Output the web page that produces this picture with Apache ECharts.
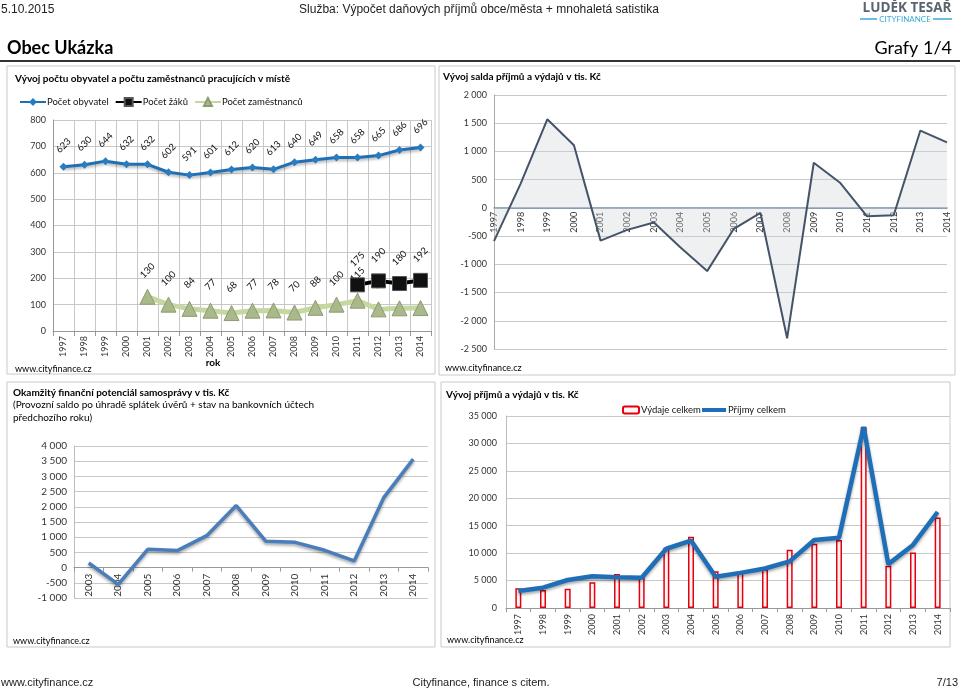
<!DOCTYPE html>
<html><head><meta charset="utf-8">
<script src="https://cdn.jsdelivr.net/npm/echarts@6/dist/echarts.min.js"></script>
<style>html,body{margin:0;padding:0;background:#fff}#c{width:960px;height:690px}</style>
</head><body><div id="c"></div>
<script>
// ---- data ----
const years = ['1997','1998','1999','2000','2001','2002','2003','2004','2005','2006','2007','2008','2009','2010','2011','2012','2013','2014'];
const popValues = [623,630,644,632,632,602,591,601,612,620,613,640,649,658,658,665,686,696];
const pupilValues = [null,null,null,null,null,null,null,null,null,null,null,null,null,null,175,190,180,192];
const employeeValues = [null,null,null,null,130,100,84,77,68,77,78,70,88,100,115,82,86,87];
const saldoValues = [-590,430,1570,1110,-580,-390,-260,-700,-1120,-370,-90,-2310,800,440,-150,-130,1370,1160];
const potYears = ['2003','2004','2005','2006','2007','2008','2009','2010','2011','2012','2013','2014'];
const potValues = [150,-550,600,560,1050,2040,870,830,570,220,2300,3570];
const expenseValues = [3600,3300,3500,4700,6200,5700,11000,13000,6700,6600,7000,10600,11700,12400,33000,7700,10100,16500];
const incomeValues = [3100,3700,5100,5800,5600,5500,10800,12300,5700,6400,7200,8500,12400,12800,33000,8000,11500,17500];

const FONT = 'Lato, "Open Sans", sans-serif';
const HFONT = '"Liberation Sans Narrow", "Liberation Sans", Arial, sans-serif';
const fmt = v => String(v).replace(/\B(?=(\d{3})+(?!\d))/g, ' ');
const axisTxt = {color:'#333', fontSize:9, fontFamily:FONT};
const gridLine = {lineStyle:{color:'#c8c8c8', width:1}};

function txt(text, x, y, opt) {
  return {type:'text', style:Object.assign({text, x, y, fill:'#000', fontSize:10, fontFamily:FONT, verticalAlign:'middle', align:'left'}, opt || {})};
}
function box(x, y, w, h) {
  return {type:'rect', shape:{x, y, width:w, height:h}, style:{fill:'none', stroke:'#c9c9c9', lineWidth:1}, z:-1};
}

// grid geometry
const G = [
  {left:53, top:120, width:378, height:211},
  {left:494, top:95, width:453, height:254},
  {left:74, top:446, width:354, height:152},
  {left:506, top:416, width:444, height:192}
];
// distance of the zero line above the grid bottom (value axis ranges below)
const zeroOff = (g, min, max) => -(g.height * (0 - min) / (max - min));

const chart = echarts.init(document.getElementById('c'), null, {renderer:'canvas'});
const rotLabel = (extra) => Object.assign({show:true, position:'top', rotate:45, distance:10, offset:[5,0], fontSize:9.5, fontFamily:FONT, color:'#111'}, extra || {});

chart.setOption({
  animation:false,
  textStyle:{fontFamily:FONT},
  graphic:[
    box(7,66,428,308), box(439,66,516,309), box(7,382,428,265), box(441,382,509,265),
    txt('5.10.2015', 1, 10, {fontSize:12, fontFamily:HFONT, fill:'#222'}),
    txt('Služba: Výpočet daňových příjmů obce/města + mnohaletá satistika', 479, 10, {fontSize:12, fontFamily:HFONT, fill:'#222', align:'center'}),
    txt('LUDĚK TESAŘ', 907, 8, {fontSize:13.5, fontWeight:'bold', fill:'#5a6470', align:'center', fontFamily:'"Open Sans", Lato, sans-serif'}),
    txt('CITYFINANCE', 905, 19, {fontSize:8, fill:'#3aa8d8', align:'center'}),
    {type:'line', shape:{x1:860,y1:19,x2:877,y2:19}, style:{stroke:'#3aa8d8', lineWidth:1.5}},
    {type:'line', shape:{x1:933,y1:19,x2:952,y2:19}, style:{stroke:'#3aa8d8', lineWidth:1.5}},
    txt('Obec Ukázka', 7, 48, {fontSize:18, fontWeight:'bold'}),
    txt('Grafy 1/4', 952, 48, {fontSize:18, align:'right'}),
    {type:'line', shape:{x1:0,y1:61,x2:960,y2:61}, style:{stroke:'#333', lineWidth:2}},
    txt('Vývoj počtu obyvatel a počtu zaměstnanců pracujících v místě', 15, 79, {fontWeight:'bold'}),
    txt('rok', 213, 363, {fontWeight:'bold', align:'center'}),
    txt('www.cityfinance.cz', 15, 369, {fontSize:9}),
    txt('Vývoj salda příjmů a výdajů v tis. Kč', 443, 77, {fontWeight:'bold'}),
    txt('www.cityfinance.cz', 445, 368, {fontSize:9}),
    txt('Okamžitý finanční potenciál samosprávy v tis. Kč', 13, 393, {fontWeight:'bold'}),
    txt('(Provozní saldo po úhradě splátek úvěrů + stav na bankovních účtech', 13, 405),
    txt('předchozího roku)', 13, 418),
    txt('www.cityfinance.cz', 13, 641, {fontSize:9}),
    txt('Vývoj příjmů a výdajů v tis. Kč', 446, 395, {fontWeight:'bold'}),
    txt('www.cityfinance.cz', 447, 640, {fontSize:9}),
    txt('www.cityfinance.cz', 1, 683, {fontSize:11, fontFamily:HFONT, fill:'#222'}),
    txt('Cityfinance, finance s citem.', 481, 683, {fontSize:11, fontFamily:HFONT, fill:'#222', align:'center'}),
    txt('7/13', 958, 683, {fontSize:11, fontFamily:HFONT, fill:'#222', align:'right'})
  ],
  legend:[
    {data:['Počet obyvatel','Počet žáků','Počet zaměstnanců'], left:14, top:92, itemWidth:26, itemHeight:10, itemGap:6,
     textStyle:{fontSize:9.5, fontFamily:FONT, color:'#111', padding:[0,0,0,-4]}},
    {data:['Výdaje celkem'], left:617, top:400, itemWidth:16, itemHeight:7,
     textStyle:{fontSize:9.5, fontFamily:FONT, color:'#111', padding:[0,0,0,-3]}},
    {data:[{name:'Příjmy celkem', icon:'rect'}], left:697, top:400, itemWidth:24, itemHeight:4,
     textStyle:{fontSize:9.5, fontFamily:FONT, color:'#111', padding:[0,0,0,-3]}}
  ],
  grid:G,
  xAxis:[
    {type:'category', gridIndex:0, data:years, boundaryGap:true,
     axisLine:{lineStyle:{color:'#999'}}, axisTick:{show:true, interval:0, lineStyle:{color:'#999'}},
     axisLabel:Object.assign({rotate:90, interval:0, margin:5}, axisTxt),
     splitLine:{show:true, interval:0, lineStyle:{color:'#c8c8c8'}}},
    {type:'category', gridIndex:1, data:years, boundaryGap:false, offset:zeroOff(G[1], -2500, 2000),
     axisLine:{onZero:false, lineStyle:{color:'#7a8ea8', width:1.5}}, axisTick:{show:false},
     axisLabel:Object.assign({rotate:90, interval:0, margin:4}, axisTxt), splitLine:{show:false}},
    {type:'category', gridIndex:2, data:potYears, boundaryGap:true, offset:zeroOff(G[2], -1000, 4000),
     axisLine:{onZero:false, lineStyle:{color:'#999'}}, axisTick:{show:true, interval:0, length:4, lineStyle:{color:'#999'}},
     axisLabel:Object.assign({rotate:90, interval:0, margin:6}, axisTxt, {fontSize:10}), splitLine:{show:false}},
    {type:'category', gridIndex:3, data:years, boundaryGap:true,
     axisLine:{lineStyle:{color:'#999'}}, axisTick:{show:true, interval:0, length:4, lineStyle:{color:'#999'}},
     axisLabel:Object.assign({rotate:90, interval:0, margin:6}, axisTxt), splitLine:{show:false}}
  ],
  yAxis:[
    {type:'value', gridIndex:0, min:0, max:800, interval:100,
     axisLine:{show:true, lineStyle:{color:'#999'}}, axisTick:{show:false},
     axisLabel:Object.assign({margin:7, formatter:fmt}, axisTxt), splitLine:gridLine},
    {type:'value', gridIndex:1, min:-2500, max:2000, interval:500,
     axisLine:{show:true, lineStyle:{color:'#aaa'}}, axisTick:{show:false},
     axisLabel:Object.assign({margin:7, formatter:fmt}, axisTxt), splitLine:gridLine},
    {type:'value', gridIndex:2, min:-1000, max:4000, interval:500,
     axisLine:{show:true, lineStyle:{color:'#bbb'}}, axisTick:{show:false},
     axisLabel:Object.assign({margin:7, formatter:fmt}, axisTxt, {fontSize:10}), splitLine:gridLine},
    {type:'value', gridIndex:3, min:0, max:35000, interval:5000,
     axisLine:{show:true, lineStyle:{color:'#bbb'}}, axisTick:{show:false},
     axisLabel:Object.assign({margin:9, formatter:fmt}, axisTxt), splitLine:gridLine}
  ],
  series:[
    {name:'Počet obyvatel', type:'line', xAxisIndex:0, yAxisIndex:0, data:popValues,
     symbol:'diamond', symbolSize:8, color:'#1f6fb4',
     lineStyle:{width:3, color:'#1f6fb4', shadowColor:'rgba(0,0,0,0.3)', shadowBlur:3, shadowOffsetY:2},
     itemStyle:{color:'#2a7cc0'}, label:rotLabel(), z:3},
    {name:'Počet žáků', type:'line', xAxisIndex:0, yAxisIndex:0, data:pupilValues,
     symbol:'rect', symbolSize:14, color:'#000',
     lineStyle:{width:4, color:'#000'}, itemStyle:{color:'#111', borderColor:'#555', borderWidth:1},
     label:rotLabel({distance:11}), z:5},
    {name:'Počet zaměstnanců', type:'line', xAxisIndex:0, yAxisIndex:0, data:employeeValues,
     symbol:'triangle', symbolSize:15, color:'#c4d79b',
     lineStyle:{width:5, color:'#c6d8a0'}, itemStyle:{color:'#aab98b', borderColor:'#8c9b70', borderWidth:1},
     label:rotLabel({distance:11}), z:4},
    {name:'Saldo', type:'line', xAxisIndex:1, yAxisIndex:1, data:saldoValues, symbol:'none',
     lineStyle:{width:2, color:'#445468'},
     areaStyle:{color:'rgba(210,212,218,0.5)'}},
    {name:'Potenciál', type:'line', xAxisIndex:2, yAxisIndex:2, data:potValues, symbol:'none',
     lineStyle:{width:3.5, color:'#4a7ebb', shadowColor:'rgba(0,0,0,0.35)', shadowBlur:3, shadowOffsetY:2}},
    {name:'Výdaje celkem', type:'bar', xAxisIndex:3, yAxisIndex:3, data:expenseValues, barWidth:6,
     itemStyle:{color:'#fff5f5', borderColor:'#e3000f', borderWidth:1.5}},
    {name:'Příjmy celkem', type:'line', xAxisIndex:3, yAxisIndex:3, data:incomeValues, symbol:'none',
     color:'#1f6fb8',
     lineStyle:{width:4.5, color:'#1f6fb8', shadowColor:'rgba(0,0,0,0.35)', shadowBlur:3, shadowOffsetY:2}}
  ]
});
</script></body></html>
